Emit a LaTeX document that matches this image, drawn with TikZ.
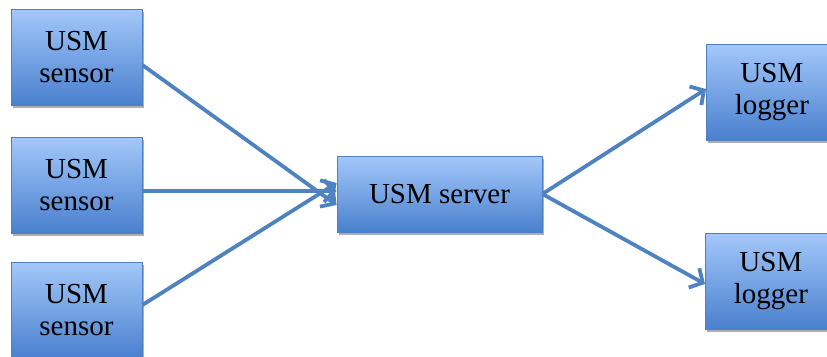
\documentclass[tikz,border=0pt]{standalone}
\usepackage{fontspec}
\setmainfont{Liberation Serif}
\usetikzlibrary{arrows.meta,shadows}
\definecolor{boxtop}{HTML}{A3C8FA}
\definecolor{boxbot}{HTML}{4A80CE}
\definecolor{boxline}{HTML}{4F7FBE}
\definecolor{arrowcol}{HTML}{4F82C0}
\tikzset{
  usmbox/.style={draw=boxline, line width=0.8pt, top color=boxtop, bottom color=boxbot,
    minimum width=131pt, minimum height=96pt, align=center, inner sep=0pt,
    font=\fontsize{29}{32}\selectfont,
    drop shadow={shadow xshift=2pt, shadow yshift=-3pt, opacity=0.45, fill=black!70}},
  widebox/.style={usmbox, minimum width=205pt, minimum height=76pt},
  link/.style={draw=arrowcol, line width=3.8pt,
    -{Straight Barb[length=10pt, width=22pt, line width=3.8pt]}}
}
\begin{document}
\begin{tikzpicture}[x=1pt,y=-1pt]
\useasboundingbox (0,0) rectangle (827,356);
\clip (0,0) rectangle (827,356);
\node[usmbox] (s1) at (76.5,57) {USM\\sensor};
\node[usmbox] (s2) at (76.5,185) {USM\\sensor};
\node[usmbox] (s3) at (76.5,310) {USM\\sensor};
\node[widebox] (srv) at (439.5,194) {USM server};
\node[usmbox, anchor=west] (l1) at (706,92) {USM\\logger};
\node[usmbox, anchor=west] (l2) at (705,281) {USM\\logger};
\draw[link] ([yshift=-8pt]s1.east) -- ([yshift=-11pt]srv.west);
\draw[link] ([yshift=-6pt]s2.east) -- ([yshift=3pt]srv.west);
\draw[link] ([yshift=5pt]s3.east) -- ([yshift=11pt]srv.west);
\draw[link] (srv.east) -- ([yshift=3pt]l1.west);
\draw[link] (srv.east) -- ([yshift=-3pt]l2.west);
\end{tikzpicture}
\end{document}
